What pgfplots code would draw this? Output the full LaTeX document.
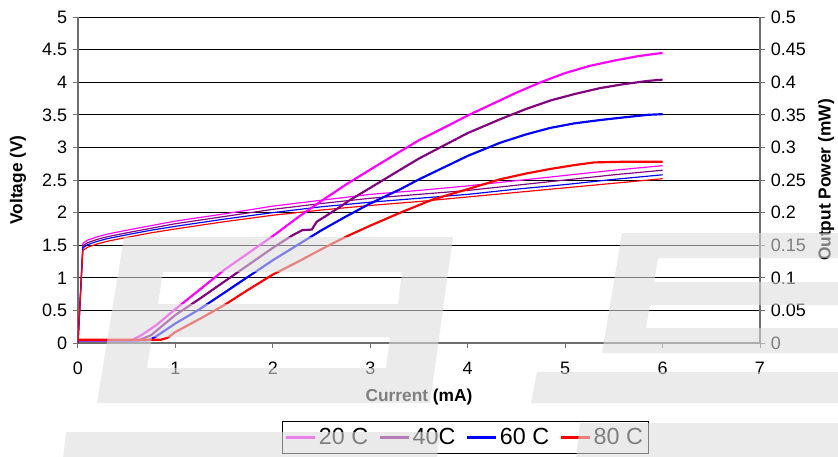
\documentclass[border=0pt]{standalone}
\usepackage{fontspec}
\setmainfont{Liberation Sans}
\usepackage{pgfplots}
\pgfplotsset{compat=1.18}

\definecolor{c20}{RGB}{255,0,255}
\definecolor{c40}{RGB}{128,0,128}
\definecolor{c60}{RGB}{0,0,255}
\definecolor{c80}{RGB}{255,0,0}
\definecolor{wm}{RGB}{220,220,220}
\definecolor{axisgray}{RGB}{110,110,110}

\begin{document}
\begin{tikzpicture}
% 1 px of the reference = 0.6pt, origin at the top left corner
\pgfplotsset{
  common/.style={
    scale only axis, width=409.2pt, height=195.6pt,
    at={(46.8pt,-205.8pt)}, anchor=south west,
    xmin=0, xmax=7,
    tick align=outside, major tick length=3pt,
    /pgf/number format/assume math mode=true,
    tick label style={font=\fontsize{10.8}{12}\selectfont},
    label style={font=\fontsize{10.4}{12}\selectfont\bfseries},
    axis line style={axisgray, line width=0.7pt},
    tick style={axisgray, line width=0.6pt},
  }
}

\begin{axis}[common,
  axis x line*=bottom, axis y line*=left,
  ymin=0, ymax=5,
  xtick={0,1,2,3,4,5,6,7},
  ytick={0,0.5,1,1.5,2,2.5,3,3.5,4,4.5,5},
  xticklabel style={yshift=-5pt},
  ymajorgrids, grid style={black, line width=0.5pt},
  xlabel={Current (mA)}, ylabel={Voltage (V)},
  xlabel style={at={(axis description cs:0.5,-0.166)}, anchor=center},
  ylabel style={at={(axis description cs:-0.088,0.5)}, anchor=center},
  legend columns=4,
  legend style={at={(axis description cs:0.568,-0.29)}, anchor=center,
    draw=black, line width=0.6pt, font=\fontsize{14}{16}\selectfont,
    inner xsep=1.5pt, inner ysep=2pt,
    nodes={inner xsep=1.5pt},
    /tikz/every even column/.append style={column sep=5pt}},
  legend image code/.code={\draw[#1, line width=1.3pt] (0pt,0pt) -- (17.4pt,0pt);},
]
% voltage, thin lines
\addplot[c20, line width=0.7pt] coordinates {
(0,0) (0.05,1.53) (0.1,1.58) (0.2,1.63) (0.3,1.67) (0.5,1.73) (0.75,1.80)
(1,1.87) (1.5,1.98) (2,2.10) (2.5,2.19) (3,2.28) (3.5,2.34) (4,2.41)
(4.5,2.49) (5,2.57) (5.5,2.65) (6,2.72)};
\addplot[c40, line width=0.7pt] coordinates {
(0,0) (0.05,1.49) (0.1,1.54) (0.2,1.59) (0.3,1.63) (0.5,1.69) (0.75,1.76)
(1,1.83) (1.5,1.94) (2,2.05) (2.5,2.14) (3,2.22) (3.5,2.28) (4,2.34)
(4.5,2.42) (5,2.50) (5.5,2.58) (6,2.65)};
\addplot[c60, line width=0.7pt] coordinates {
(0,0) (0.05,1.46) (0.1,1.51) (0.2,1.56) (0.3,1.60) (0.5,1.66) (0.75,1.73)
(1,1.79) (1.5,1.90) (2,2.00) (2.5,2.09) (3,2.16) (3.5,2.22) (4,2.28)
(4.5,2.36) (5,2.43) (5.5,2.51) (6,2.58)};
\addplot[c80, line width=0.7pt] coordinates {
(0,0) (0.05,1.42) (0.1,1.47) (0.2,1.52) (0.3,1.56) (0.5,1.62) (0.75,1.69)
(1,1.75) (1.5,1.86) (2,1.96) (2.5,2.04) (3,2.11) (3.5,2.17) (4,2.24)
(4.5,2.31) (5,2.38) (5.5,2.45) (6,2.52)};
\legend{20 C, 40C, 60 C, 80 C}
\end{axis}

\begin{axis}[common,
  hide x axis, axis y line*=right,
  ymin=0, ymax=0.5,
  ytick={0,0.05,0.1,0.15,0.2,0.25,0.3,0.35,0.4,0.45,0.5},
  scaled y ticks=false,
  yticklabel style={/pgf/number format/fixed, /pgf/number format/precision=2},
  ylabel={Output Power (mW)},
  ylabel style={at={(axis description cs:1.097,0.5)}, anchor=center},
]
% output power, thick lines
\addplot[c20, line width=1.3pt] coordinates {
(0,0.004) (0.55,0.004) (0.65,0.012) (0.8,0.027) (1,0.052) (1.25,0.082)
(1.5,0.112) (1.75,0.138) (2,0.164) (2.25,0.192) (2.5,0.218) (2.75,0.243)
(3,0.266) (3.31,0.294) (3.5,0.311) (3.82,0.335) (4,0.349) (4.33,0.372)
(4.5,0.384) (4.75,0.400) (5,0.414) (5.25,0.425) (5.5,0.433) (5.75,0.440) (6,0.445)};
\addplot[c40, line width=1.3pt] coordinates {
(0,0.004) (0.62,0.004) (0.75,0.012) (1,0.043) (1.25,0.068) (1.5,0.094)
(1.75,0.120) (2,0.146) (2.2,0.165) (2.3,0.173) (2.4,0.174) (2.45,0.186)
(2.6,0.200) (2.8,0.220) (3,0.238) (3.31,0.266) (3.5,0.283) (3.82,0.308)
(4,0.322) (4.33,0.343) (4.6,0.359) (4.85,0.372) (5.1,0.382) (5.36,0.391)
(5.6,0.397) (5.85,0.402) (6,0.404)};
\addplot[c60, line width=1.3pt] coordinates {
(0,0.004) (0.72,0.004) (0.8,0.010) (1,0.030) (1.25,0.052) (1.5,0.077)
(1.75,0.102) (2,0.127) (2.25,0.150) (2.5,0.173) (2.75,0.194) (3,0.214)
(3.31,0.236) (3.5,0.251) (3.82,0.274) (4,0.287) (4.33,0.307) (4.6,0.320)
(4.85,0.330) (5.1,0.337) (5.36,0.342) (5.6,0.346) (5.85,0.350) (6,0.351)};
\addplot[c80, line width=1.3pt] coordinates {
(0,0.005) (0.85,0.005) (0.92,0.008) (1,0.017) (1.25,0.037) (1.5,0.058)
(1.75,0.082) (2,0.105) (2.25,0.124) (2.5,0.144) (2.75,0.163) (3,0.180)
(3.31,0.200) (3.64,0.220) (4,0.236) (4.33,0.251) (4.6,0.260) (4.85,0.267)
(5.1,0.273) (5.3,0.277) (5.6,0.278) (6,0.278)};
\end{axis}

% faint watermark laid over the chart
\begin{scope}[x=0.6pt, y=-0.6pt]
  \clip (0,0) rectangle (838,456);
  \fill[wm, fill opacity=0.58, even odd rule]
    (124,237) -- (453,237) -- (430,403) -- (97,403) -- cycle
    (163,272) -- (402,272) -- (398,304) -- (158,304) -- cycle
    (152,337) -- (390,337) -- (386,368) -- (147,368) -- cycle;
  \fill[wm, fill opacity=0.58]
    (622,233) -- (840,233) -- (840,258) -- (658,258) -- (654,282)
    -- (840,282) -- (840,305) -- (650,305) -- (646,328) -- (840,328)
    -- (840,353) -- (602,353) -- cycle;
  \fill[wm, fill opacity=0.58] (537,372) -- (840,372) -- (840,403) -- (531,403) -- cycle;
  \fill[wm, fill opacity=0.58] (66,432) -- (440,432) -- (437,458) -- (63,458) -- cycle;
  \fill[wm, fill opacity=0.58] (580,423) -- (840,423) -- (840,458) -- (576,458) -- cycle;
\end{scope}
\pgfresetboundingbox
\useasboundingbox (0,0) rectangle (502.8pt,-273.6pt);
\end{tikzpicture}
\end{document}
